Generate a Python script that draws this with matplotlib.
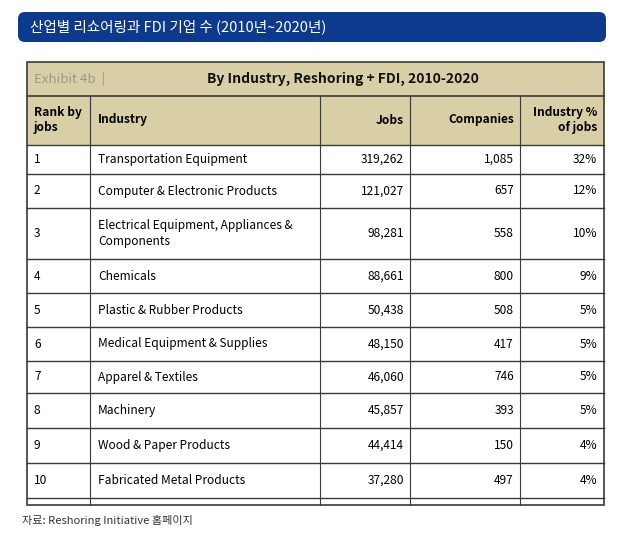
import matplotlib.pyplot as plt
from matplotlib.patches import Rectangle, FancyBboxPatch

plt.rcParams['font.family'] = ['Noto Sans CJK KR', 'DejaVu Sans']

ranks = ['1', '2', '3', '4', '5', '6', '7', '8', '9', '10']
industries = ['Transportation Equipment', 'Computer & Electronic Products',
              'Electrical Equipment, Appliances &\nComponents', 'Chemicals',
              'Plastic & Rubber Products', 'Medical Equipment & Supplies',
              'Apparel & Textiles', 'Machinery', 'Wood & Paper Products',
              'Fabricated Metal Products']
jobs = ['319,262', '121,027', '98,281', '88,661', '50,438', '48,150',
        '46,060', '45,857', '44,414', '37,280']
companies = ['1,085', '657', '558', '800', '508', '417', '746', '393', '150', '497']
pct = ['32%', '12%', '10%', '9%', '5%', '5%', '5%', '5%', '4%', '4%']

W, H = 639, 539
fig = plt.figure(figsize=(W / 100, H / 100), dpi=100)
ax = fig.add_axes([0, 0, 1, 1])
ax.set_xlim(0, W)
ax.set_ylim(H, 0)
ax.axis('off')

# banner
ax.add_patch(FancyBboxPatch((18, 12), 588, 30, boxstyle='round,pad=0,rounding_size=7',
                            fc='#0d3a8c', ec='none'))
ax.text(30, 27, '산업별 리쇼어링과 FDI 기업 수 (2010년~2020년)', color='white',
        fontsize=10.5, va='center', fontweight='medium')

tan = '#d8cfa6'
line = '#3a3a3a'
x0, x1 = 27, 604
cols = [27, 90, 320, 410, 520, 604]
bounds = [145, 174, 208, 259, 293, 327, 361, 393, 428, 463, 498]
bottom = 505

ax.add_patch(Rectangle((x0, 62), x1 - x0, 145 - 62, fc=tan, ec='none'))
ax.add_patch(Rectangle((x0, 62), x1 - x0, bottom - 62, fc='none', ec=line, lw=1.2))
ax.plot([x0, x1], [96, 96], color=line, lw=1.2)
for y in bounds:
    ax.plot([x0, x1], [y, y], color=line, lw=1.0)
for x in cols[1:-1]:
    ax.plot([x, x], [96, bottom], color=line, lw=0.8)

ax.text(34, 79, 'Exhibit 4b  |', color='#9a9a8a', fontsize=9.5, va='center')
ax.text(343, 79, 'By Industry, Reshoring + FDI, 2010-2020', fontsize=10,
        fontweight='bold', ha='center', va='center', color='#111111')

hy = 120
fs = 8.6
ax.text(34, hy, 'Rank by\njobs', fontsize=fs, fontweight='bold', va='center', linespacing=1.2)
ax.text(98, hy, 'Industry', fontsize=fs, fontweight='bold', va='center')
ax.text(404, hy, 'Jobs', fontsize=fs, fontweight='bold', va='center', ha='right')
ax.text(514, hy, 'Companies', fontsize=fs, fontweight='bold', va='center', ha='right')
ax.text(597, hy, 'Industry %\nof jobs', fontsize=fs, fontweight='bold', va='center',
        ha='right', linespacing=1.2)

for i in range(len(ranks)):
    yc = (bounds[i] + bounds[i + 1]) / 2
    ax.text(34, yc, ranks[i], fontsize=fs, va='center')
    ax.text(98, yc, industries[i], fontsize=fs, va='center', linespacing=1.4)
    ax.text(404, yc, jobs[i], fontsize=fs, va='center', ha='right')
    ax.text(514, yc, companies[i], fontsize=fs, va='center', ha='right')
    ax.text(597, yc, pct[i], fontsize=fs, va='center', ha='right')

ax.text(22, 520, '자료: Reshoring Initiative 홈페이지', fontsize=8, va='center', color='#333333')

fig.savefig('out.png', dpi=100)
